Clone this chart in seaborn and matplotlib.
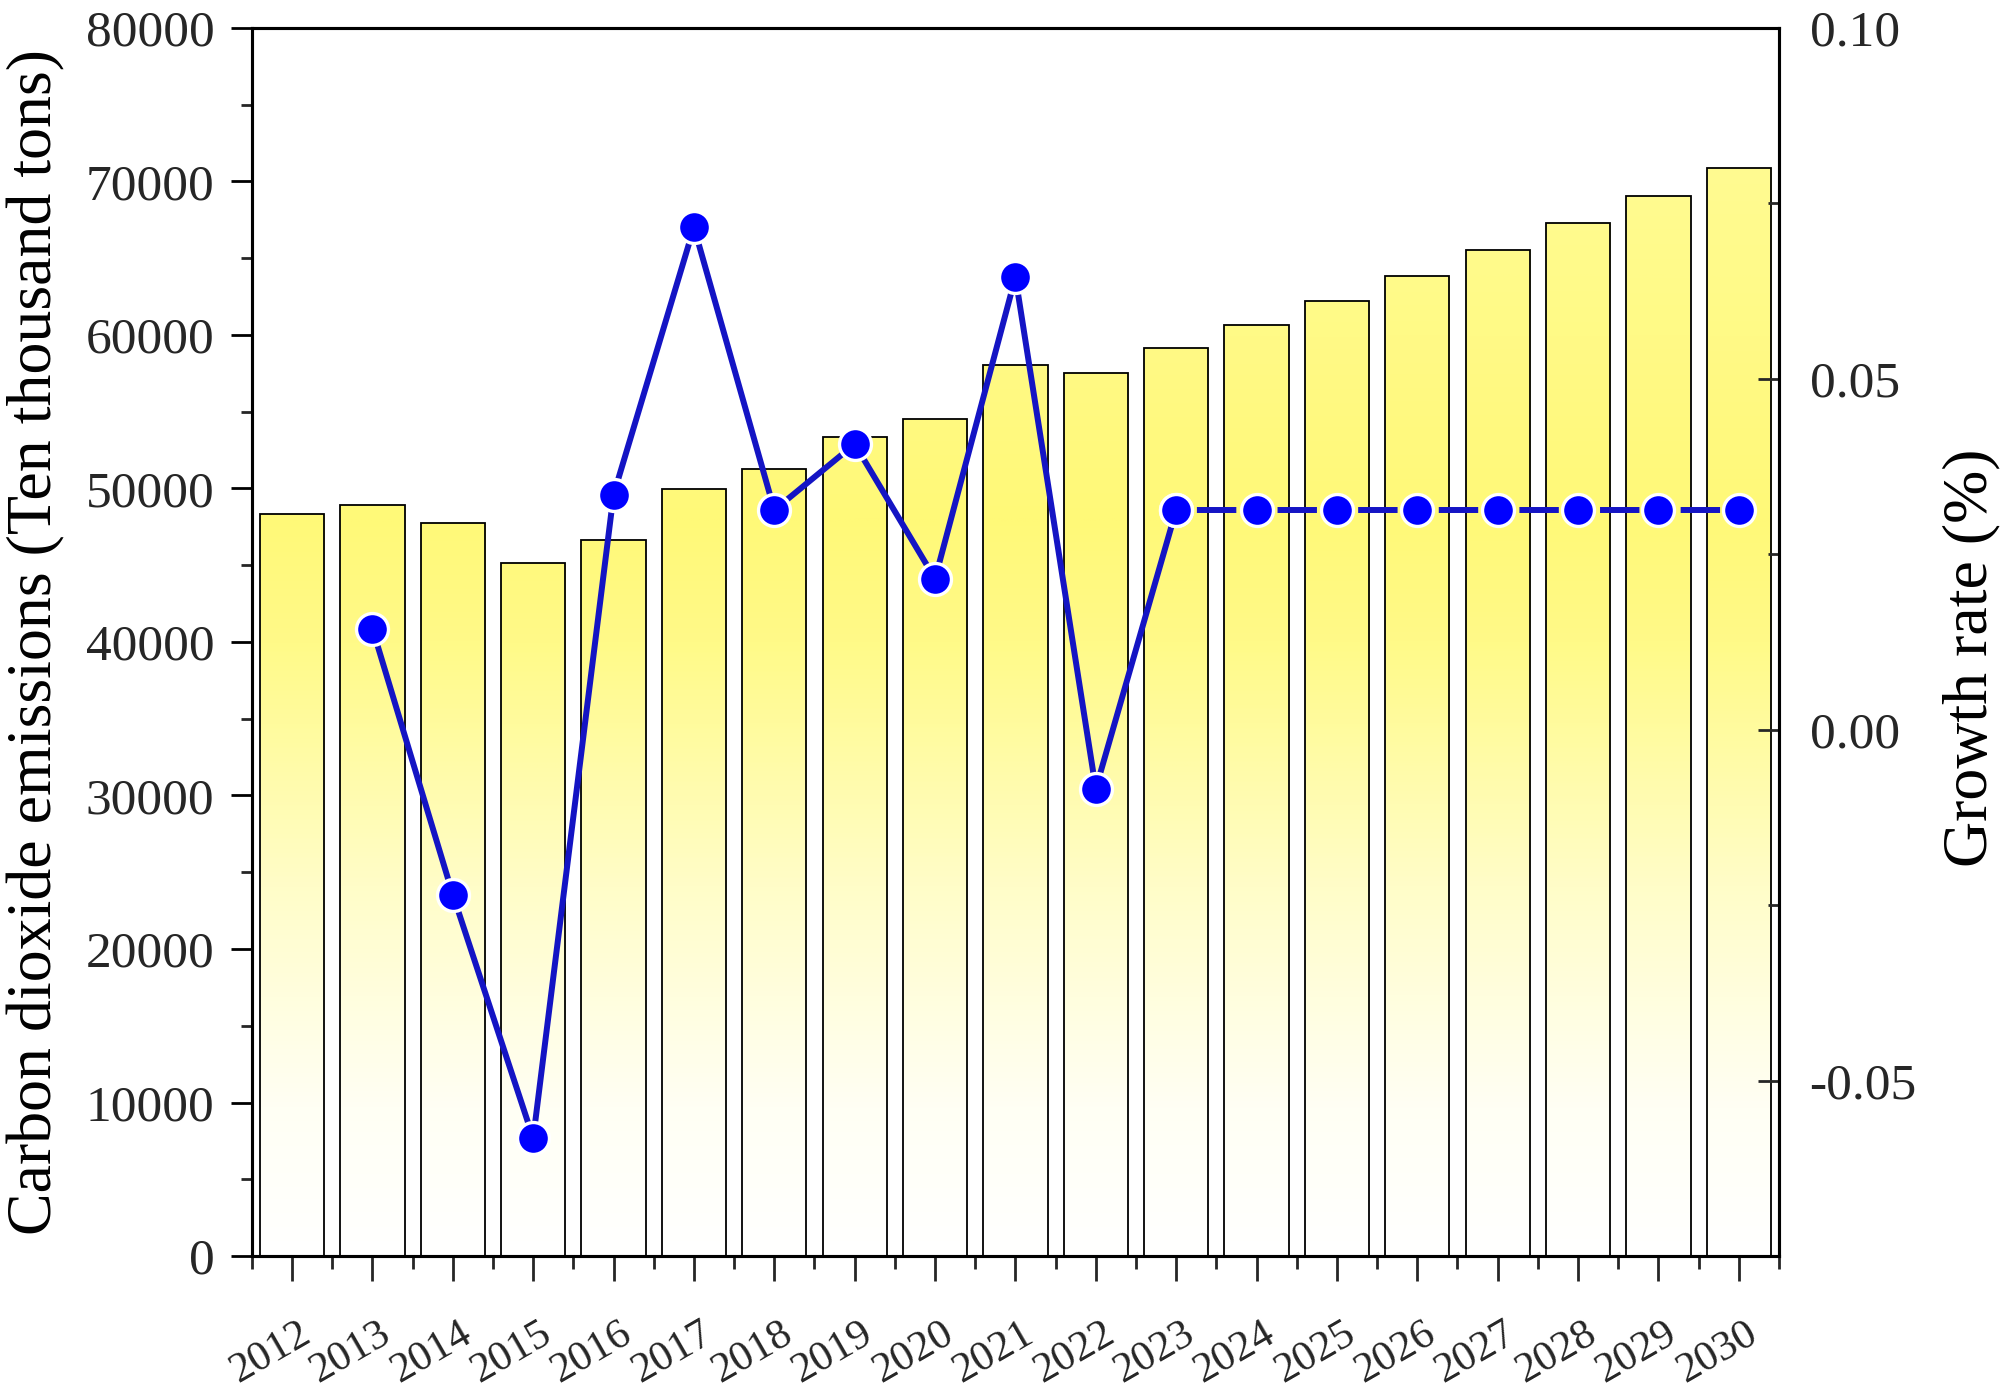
import numpy as np
import pandas as pd
import matplotlib
matplotlib.use("Agg")
import matplotlib.pyplot as plt
import matplotlib.transforms as mtransforms
from matplotlib.colors import LinearSegmentedColormap
from matplotlib.ticker import MultipleLocator, FixedLocator, FormatStrFormatter
import seaborn as sns

# ---------------- data ----------------
years = [2012, 2013, 2014, 2015, 2016, 2017, 2018, 2019, 2020, 2021,
         2022, 2023, 2024, 2025, 2026, 2027, 2028, 2029, 2030]
emissions = [48330, 48900, 47750, 45130, 46630, 49960, 51290, 53370, 54540, 58040,
             57540, 59120, 60620, 62200, 63860, 65530, 67280, 69030, 70860]
growth_years = [2013, 2014, 2015, 2016, 2017, 2018, 2019, 2020, 2021, 2022,
                2023, 2024, 2025, 2026, 2027, 2028, 2029, 2030]
growth = [0.0144, -0.0235, -0.0582, 0.0335, 0.0716, 0.0313, 0.0407, 0.0215, 0.0645, -0.0084,
          0.0313, 0.0313, 0.0313, 0.0313, 0.0313, 0.0313, 0.0313, 0.0313]
forecast_start = 2023
left_label = "Carbon dioxide emissions (Ten thousand tons)"
right_label = "Growth rate (%)"

# ---------------- style ----------------
sns.set_theme(style="white")
plt.rcParams["font.family"] = ["Liberation Serif", "DejaVu Serif"]
plt.rcParams["axes.unicode_minus"] = False

fig = plt.figure(figsize=(20.04, 13.95), dpi=100)
ax = fig.add_axes([0.1257, 0.0996, 0.762, 0.8804])

df = pd.DataFrame({"year": [str(y) for y in years], "em": emissions})
sns.barplot(data=df, x="year", y="em", ax=ax, width=0.8, color="#FFF870",
            saturation=1, edgecolor="black", linewidth=1.3, zorder=2)

ax.set_xlim(-0.5, len(years) - 0.5)
ax.set_ylim(0, 80000)

# gradient fill inside each bar (white at bottom -> yellow)
cmap = LinearSegmentedColormap.from_list(
    "ygrad",
    [(0.0, "#FFFFFF"), (0.12, "#FFFFF4"), (0.3, "#FFFDC8"), (0.5, "#FFFA88"),
     (0.6, "#FFF978"), (0.75, "#FFFA86"), (1.0, "#FFFB9A")])
for p in list(ax.patches):
    x0, y0 = p.get_x(), p.get_y()
    w, h = p.get_width(), p.get_height()
    vals = np.linspace(y0, y0 + h, 512).reshape(-1, 1) / 80000.0
    im = ax.imshow(vals, cmap=cmap, vmin=0, vmax=1, origin="lower",
                   extent=[x0, x0 + w, y0, y0 + h], aspect="auto",
                   interpolation="bilinear", zorder=1)
    im.set_clip_path(p)
    p.set_facecolor("none")
    p.set_zorder(3)
ax.set_xlim(-0.5, len(years) - 0.5)
ax.set_ylim(0, 80000)
ax.set_aspect("auto")

# ticks, left axis
ax.yaxis.set_major_locator(MultipleLocator(10000))
ax.yaxis.set_minor_locator(MultipleLocator(5000))
ax.xaxis.set_minor_locator(FixedLocator(np.arange(-0.5, len(years), 1.0)))
ax.tick_params(axis="y", which="major", direction="out", length=15, width=2,
               labelsize=37, pad=12, left=True, color="black")
ax.tick_params(axis="y", which="minor", direction="out", length=8, width=2, left=True)
ax.tick_params(axis="x", which="major", direction="out", length=18, width=2,
               labelsize=31, pad=24, bottom=True)
ax.tick_params(axis="x", which="minor", direction="out", length=9, width=2, bottom=True)
for lab in ax.get_xticklabels():
    lab.set_rotation(30)
    lab.set_ha("center")
    lab.set_va("top")
    lab.set_transform(lab.get_transform() +
                      mtransforms.ScaledTranslation(-22 / 100, 0, fig.dpi_scale_trans))

ax.set_xlabel("")
ax.set_ylabel(left_label, fontsize=46, color="black")
ax.yaxis.set_label_coords(-0.122, 0.5)

for s in ax.spines.values():
    s.set_visible(True)
    s.set_color("black")
    s.set_linewidth(2.2)

# ---------------- growth rate line ----------------
ax2 = ax.twinx()
gx = np.array(growth_years) - years[0]
g = np.array(growth)
hist = np.array(growth_years) <= forecast_start
fut = np.array(growth_years) >= forecast_start

line_kw = dict(color="#1414C4", linewidth=4.3, marker="o", markersize=23,
               markerfacecolor="#0000FF", markeredgecolor="white", markeredgewidth=2.4)
sns.lineplot(x=gx[hist], y=g[hist], ax=ax2, zorder=5, **line_kw)
sns.lineplot(x=gx[fut], y=g[fut], ax=ax2, zorder=5,
             linestyle=(10.0, (6.6, 6.9)), **line_kw)

ax2.set_ylim(-0.075, 0.10)
ax2.set_xlim(-0.5, len(years) - 0.5)
ax2.yaxis.set_major_locator(FixedLocator([-0.05, 0.0, 0.05, 0.10]))
ax2.yaxis.set_major_formatter(FormatStrFormatter("%.2f"))
ax2.yaxis.set_minor_locator(MultipleLocator(0.025))
ax2.tick_params(axis="y", which="major", direction="in", length=15, width=2,
                labelsize=37, pad=22, right=True)
ax2.tick_params(axis="y", which="minor", direction="in", length=8, width=2, right=True)
ax2.set_ylabel(right_label, fontsize=46, rotation=90, color="black")
ax2.yaxis.set_label_coords(1.107, 0.487)
ax2.grid(False)
ax.grid(False)
for s in ax2.spines.values():
    s.set_color("black")
    s.set_linewidth(2.2)

fig.savefig("out.png", dpi=100, facecolor="white")
